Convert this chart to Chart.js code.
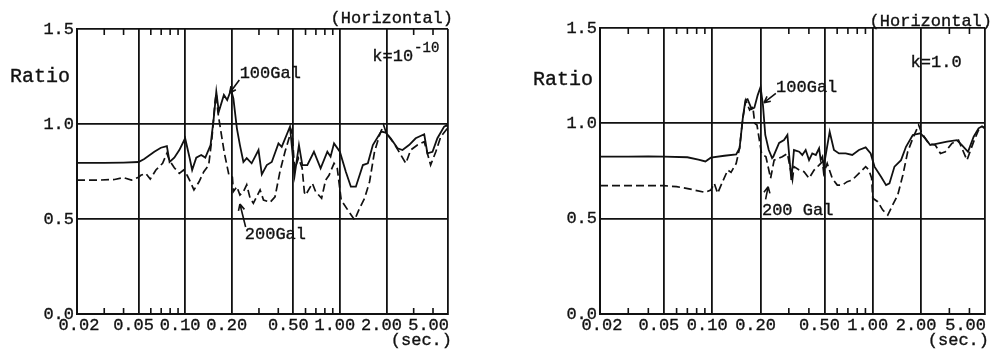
<!DOCTYPE html>
<html>
<head>
<meta charset="utf-8">
<script src="https://cdn.jsdelivr.net/npm/chart.js@4.4.1/dist/chart.umd.min.js"></script>
<style>
  body { margin: 0; background: #fff; }
  canvas { position: absolute; top: 0; }
</style>
</head>
<body>
<canvas id="chartLeft" width="460" height="349" style="left:0"></canvas>
<canvas id="chartRight" width="493" height="349" style="left:500px"></canvas>
<script>
// 축 눈금 (주기, sec.)
const tickPeriods = [0.02, 0.05, 0.1, 0.2, 0.5, 1, 2, 5];
const tickLabels = ['0.02', '0.05', '0.10', '0.20', '0.50', '1.00', '2.00', '5.00'];
const minorPeriods = [0.03, 0.04, 0.06, 0.07, 0.08, 0.09, 0.3, 0.4, 0.6, 0.7, 0.8, 0.9, 3, 4];
const ratioTicks = [0, 0.5, 1.0, 1.5];

// 왼쪽 그래프 (k=10^-10)
const periodL100 = [0.02, 0.03, 0.04, 0.05, 0.0544, 0.0632, 0.0697, 0.0762, 0.0793, 0.0851, 0.0917,
  0.100, 0.107, 0.111, 0.118, 0.127, 0.135, 0.146, 0.153, 0.159, 0.165,
  0.178, 0.187, 0.198, 0.205, 0.216, 0.226, 0.238, 0.250, 0.269, 0.298,
  0.313, 0.337, 0.363, 0.401, 0.421, 0.476, 0.51, 0.544, 0.572, 0.616,
  0.680, 0.751, 0.830, 0.871, 0.917, 1.00, 1.093, 1.178, 1.269, 1.409,
  1.517, 1.634, 1.849, 1.98, 2.13, 2.36, 2.54, 2.80, 3.09, 3.51,
  3.68, 3.97, 4.27, 4.72, 4.95, 5.0];
const ratioL100 = [0.795, 0.795, 0.797, 0.80, 0.816, 0.854, 0.875, 0.884, 0.80, 0.823, 0.863,
  0.925, 0.82, 0.758, 0.823, 0.837, 0.823, 0.889, 1.03, 1.17, 1.065,
  1.153, 1.126, 1.18, 1.135, 0.977, 0.889, 0.80, 0.82, 0.793, 0.863,
  0.735, 0.784, 0.80, 0.898, 0.88, 0.986, 0.73, 0.889, 0.784, 0.784,
  0.854, 0.767, 0.854, 0.828, 0.898, 0.854, 0.749, 0.67, 0.67, 0.784,
  0.793, 0.889, 0.96, 0.955, 0.925, 0.872, 0.863, 0.889, 0.925, 0.946,
  0.846, 0.854, 0.925, 0.986, 0.995, 0.98];

const periodL200 = [0.02, 0.0282, 0.035, 0.040, 0.045, 0.05, 0.0517, 0.0557, 0.0595, 0.0647,
  0.0715, 0.0762, 0.079, 0.0851, 0.0917, 0.0977, 0.103, 0.108, 0.114, 0.123,
  0.132, 0.142, 0.149, 0.156, 0.159, 0.163, 0.169, 0.179, 0.192, 0.202,
  0.205, 0.216, 0.226, 0.238, 0.250, 0.263, 0.276, 0.305, 0.321, 0.354,
  0.381, 0.410, 0.442, 0.476, 0.49, 0.51, 0.54, 0.57, 0.59, 0.601,
  0.664, 0.697, 0.762, 0.809, 0.851, 0.917, 0.962, 1.02, 1.126, 1.245,
  1.34, 1.445, 1.556, 1.675, 1.806, 1.917, 2.0, 2.24, 2.67, 2.87,
  3.17, 3.51, 3.86, 4.17, 4.49, 4.95, 5.0];
const ratioL200 = [0.705, 0.705, 0.708, 0.718, 0.705, 0.72, 0.73, 0.74, 0.71, 0.758,
  0.793, 0.846, 0.81, 0.77, 0.74, 0.758, 0.73, 0.696, 0.653, 0.696,
  0.749, 0.784, 0.925, 1.117, 1.16, 1.06, 0.977, 0.85, 0.73, 0.72,
  0.644, 0.67, 0.626, 0.644, 0.68, 0.609, 0.583, 0.653, 0.60, 0.588,
  0.617, 0.749, 0.854, 0.942, 0.97, 0.76, 0.82, 0.77, 0.64, 0.626,
  0.688, 0.644, 0.609, 0.705, 0.73, 0.793, 0.767, 0.60, 0.547, 0.495,
  0.556, 0.609, 0.696, 0.854, 0.942, 0.995, 0.951, 0.898, 0.793, 0.863,
  0.889, 0.907, 0.784, 0.854, 0.933, 0.977, 0.97];

// 오른쪽 그래프 (k=1.0)
const periodR100 = [0.02, 0.03, 0.04, 0.05, 0.07, 0.082, 0.0907, 0.098, 0.119, 0.141,
  0.148, 0.155, 0.161, 0.166, 0.176, 0.183, 0.192, 0.2, 0.207, 0.214,
  0.225, 0.236, 0.24, 0.261, 0.280, 0.294, 0.311, 0.323, 0.348, 0.364,
  0.382, 0.401, 0.420, 0.442, 0.463, 0.474, 0.486, 0.495, 0.539, 0.573,
  0.616, 0.678, 0.745, 0.820, 0.903, 0.970, 1.025, 1.126, 1.21, 1.27,
  1.365, 1.50, 1.61, 1.775, 1.98, 2.12, 2.28, 2.57, 2.90, 3.34,
  3.59, 3.92, 4.25, 4.56, 4.79, 5.0];
const ratioR100 = [0.825, 0.825, 0.826, 0.825, 0.822, 0.81, 0.80, 0.82, 0.83, 0.837,
  0.869, 1.026, 1.122, 1.127, 1.075, 1.082, 1.148, 1.19, 1.096, 0.939,
  0.86, 0.818, 0.825, 0.897, 0.912, 0.939, 0.703, 0.86, 0.851, 0.834,
  0.86, 0.807, 0.842, 0.834, 0.869, 0.807, 0.825, 0.773, 0.956, 0.86,
  0.842, 0.842, 0.834, 0.86, 0.874, 0.842, 0.773, 0.72, 0.676, 0.685,
  0.773, 0.807, 0.877, 0.939, 0.948, 0.921, 0.886, 0.895, 0.904, 0.912,
  0.886, 0.851, 0.93, 0.974, 0.985, 0.975];

const periodR200 = [0.02, 0.05, 0.06, 0.073, 0.090, 0.098, 0.103, 0.108, 0.116, 0.125,
  0.131, 0.141, 0.148, 0.155, 0.162, 0.171, 0.179, 0.184, 0.190, 0.203,
  0.216, 0.231, 0.243, 0.273, 0.294, 0.316, 0.323, 0.348, 0.373, 0.401,
  0.431, 0.463, 0.486, 0.495, 0.52, 0.559, 0.601, 0.646, 0.693, 0.745,
  0.820, 0.903, 0.946, 0.984, 1.0, 1.074, 1.154, 1.24, 1.33, 1.43,
  1.54, 1.65, 1.775, 1.93, 2.02, 2.23, 2.45, 2.64, 2.83, 3.11,
  3.42, 3.86, 4.25, 4.56, 5.0];
const ratioR200 = [0.673, 0.673, 0.668, 0.655, 0.638, 0.65, 0.685, 0.633, 0.694, 0.755,
  0.743, 0.79, 0.869, 1.026, 1.12, 1.07, 1.087, 1.00, 0.991, 0.84,
  0.825, 0.712, 0.807, 0.825, 0.842, 0.703, 0.773, 0.755, 0.746, 0.712,
  0.755, 0.781, 0.799, 0.738, 0.79, 0.712, 0.676, 0.676, 0.694, 0.703,
  0.738, 0.773, 0.755, 0.712, 0.607, 0.589, 0.545, 0.519, 0.572, 0.624,
  0.729, 0.851, 0.921, 0.991, 0.948, 0.895, 0.886, 0.842, 0.851, 0.895,
  0.912, 0.807, 0.904, 0.965, 0.982];

const INK = '#111';
const MONO = '"Liberation Mono", "Courier New", monospace';
Chart.defaults.font.family = MONO;
Chart.defaults.color = INK;

function toPoints(periods, ratios) {
  return periods.map((p, i) => ({ x: p, y: ratios[i] }));
}

// 글자를 조금 굵게 (채우기 + 얇은 외곽선)
function inkText(ctx, s, px, py) {
  ctx.fillText(s, px, py);
  ctx.strokeText(s, px, py);
}

// 화살표 그리기 (끝점 쪽에 머리)
function arrow(ctx, x1, y1, x2, y2) {
  const ang = Math.atan2(y2 - y1, x2 - x1);
  ctx.beginPath();
  ctx.moveTo(x1, y1);
  ctx.lineTo(x2, y2);
  ctx.moveTo(x2, y2);
  ctx.lineTo(x2 - 7 * Math.cos(ang - 0.45), y2 - 7 * Math.sin(ang - 0.45));
  ctx.moveTo(x2, y2);
  ctx.lineTo(x2 - 7 * Math.cos(ang + 0.45), y2 - 7 * Math.sin(ang + 0.45));
  ctx.stroke();
}

// 보조 눈금, x축 글자, 주석
function overlay(note) {
  return {
    id: 'overlay',
    afterDraw(chart) {
      const ctx = chart.ctx;
      const a = chart.chartArea;
      const x = chart.scales.x;
      const y = chart.scales.y;
      ctx.save();
      ctx.strokeStyle = INK;
      ctx.fillStyle = INK;
      ctx.lineWidth = 1.6;

      minorPeriods.forEach(p => {
        const px = x.getPixelForValue(p);
        ctx.beginPath();
        ctx.moveTo(px, a.bottom);
        ctx.lineTo(px, a.bottom - 6);
        ctx.moveTo(px, a.top);
        ctx.lineTo(px, a.top + 6);
        ctx.stroke();
      });

      note.gal.forEach(g => {
        arrow(ctx,
          x.getPixelForValue(g.from[0]), y.getPixelForValue(g.from[1]),
          x.getPixelForValue(g.to[0]), y.getPixelForValue(g.to[1]));
      });

      ctx.lineWidth = 0.35;
      ctx.font = '17px ' + MONO;
      ctx.textBaseline = 'middle';
      tickPeriods.forEach((p, i) => {
        const px = x.getPixelForValue(p);
        if (i === 0) {
          ctx.textAlign = 'center';
          inkText(ctx, tickLabels[i], px + 2, a.bottom + 11);
        } else if (i === tickPeriods.length - 1) {
          ctx.textAlign = 'right';
          inkText(ctx, tickLabels[i], px + 1, a.bottom + 11);
        } else {
          ctx.textAlign = 'center';
          inkText(ctx, tickLabels[i], px - 5, a.bottom + 11);
        }
      });

      ctx.textAlign = 'right';
      inkText(ctx, '(sec.)', a.right + 4, a.bottom + 26);
      inkText(ctx, '(Horizontal)', a.right + note.hzShift, a.top - note.hzUp);

      ctx.textAlign = 'left';
      ctx.font = '20px ' + MONO;
      inkText(ctx, 'Ratio', a.left - 67, y.getPixelForValue(note.ratioAt));

      // k 값
      ctx.font = '17px ' + MONO;
      const kx = x.getPixelForValue(note.k.t);
      const ky = y.getPixelForValue(note.k.r);
      inkText(ctx, note.k.text, kx, ky);
      if (note.k.sup) {
        const w = ctx.measureText(note.k.text).width;
        ctx.font = '14px ' + MONO;
        inkText(ctx, note.k.sup, kx + w + 1, ky - 9);
        ctx.font = '17px ' + MONO;
      }

      note.gal.forEach(g => {
        inkText(ctx, g.text, x.getPixelForValue(g.t), y.getPixelForValue(g.r));
      });
      ctx.restore();
    }
  };
}

function drawPanel(id, sets, axisWidth, padRight, padTop, note) {
  const ctx = document.getElementById(id);
  new Chart(ctx, {
    type: 'line',
    data: {
      datasets: [
        { label: '100Gal', data: toPoints(sets[0], sets[1]), borderColor: INK, borderWidth: 1.8,
          pointRadius: 0, tension: 0 },
        { label: '200Gal', data: toPoints(sets[2], sets[3]), borderColor: INK, borderWidth: 1.7,
          borderDash: [8, 4], pointRadius: 0, tension: 0 }
      ]
    },
    options: {
      responsive: false,
      animation: false,
      layout: { padding: { top: padTop, right: padRight, left: 0, bottom: 0 } },
      plugins: { legend: { display: false }, tooltip: { enabled: false } },
      scales: {
        x: {
          type: 'logarithmic',
          min: 0.02,
          max: 5,
          afterBuildTicks: s => { s.ticks = tickPeriods.map(v => ({ value: v })); },
          afterFit: s => { s.height = 35; },
          ticks: { display: false },
          grid: { color: INK, lineWidth: 1.8, drawTicks: false },
          border: { color: INK, width: 2 }
        },
        y: {
          min: 0,
          max: 1.5,
          afterBuildTicks: s => { s.ticks = ratioTicks.map(v => ({ value: v })); },
          afterFit: s => { s.width = axisWidth; },
          ticks: { font: { size: 17 }, color: INK, padding: 3, textStrokeColor: INK, textStrokeWidth: 0.35,
            callback: v => v.toFixed(1) },
          grid: { color: INK, lineWidth: 1.8, drawTicks: false },
          border: { color: INK, width: 2 }
        }
      }
    },
    plugins: [overlay(note)]
  });
}

drawPanel('chartLeft', [periodL100, ratioL100, periodL200, ratioL200], 77, 12, 29, {
  hzShift: 5, hzUp: 11, ratioAt: 1.247,
  k: { text: 'k=10', sup: '-10', t: 1.62, r: 1.353 },
  gal: [
    { text: '100Gal', t: 0.225, r: 1.268, from: [0.224, 1.232], to: [0.194, 1.163] },
    { text: '200Gal', t: 0.243, r: 0.416, from: [0.246, 0.458], to: [0.226, 0.579] }
  ]
});

drawPanel('chartRight', [periodR100, ratioR100, periodR200, ratioR200], 100, 8, 28, {
  hzShift: 7, hzUp: 7, ratioAt: 1.227,
  k: { text: 'k=1.0', t: 1.72, r: 1.32 },
  gal: [
    { text: '100Gal', t: 0.25, r: 1.19, from: [0.249, 1.157], to: [0.21, 1.108] },
    { text: '200 Gal', t: 0.204, r: 0.545, from: [0.215, 0.601], to: [0.223, 0.668] }
  ]
});
</script>
</body>
</html>
